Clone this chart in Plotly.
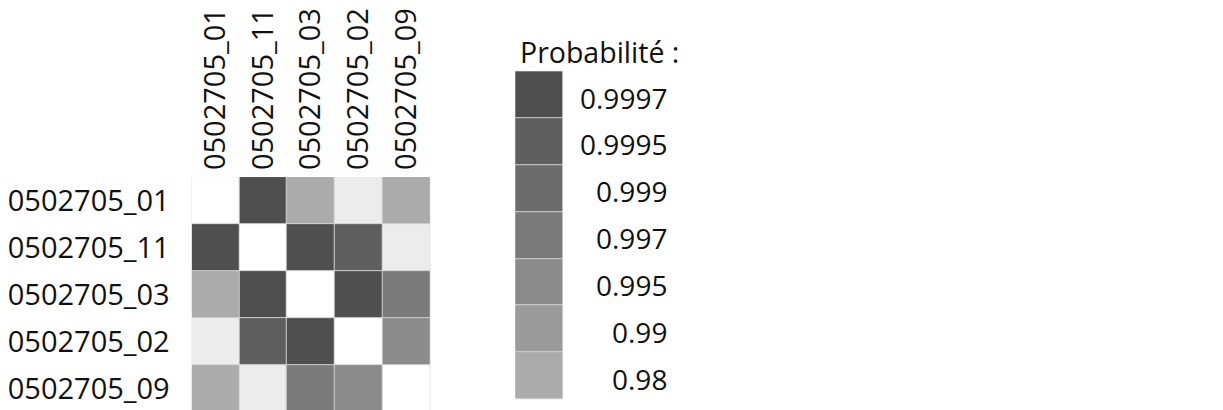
import plotly.graph_objects as go

samples = ["0502705_01", "0502705_11", "0502705_03", "0502705_02", "0502705_09"]

# Pairwise probabilities (diagonal = None). Cells lighter than the lowest class are < 0.98.
prob_01 = [None, 0.9997, 0.98, 0.95, 0.98]
prob_11 = [0.9997, None, 0.9997, 0.9995, 0.95]
prob_03 = [0.98, 0.9997, None, 0.9997, 0.997]
prob_02 = [0.95, 0.9995, 0.9997, None, 0.995]
prob_09 = [0.98, 0.95, 0.997, 0.995, None]
probs = [prob_01, prob_11, prob_03, prob_02, prob_09]

# Legend classes (low -> high) and their grey levels
class_labels = ["0.98", "0.99", "0.995", "0.997", "0.999", "0.9995", "0.9997"]
class_values = [0.98, 0.99, 0.995, 0.997, 0.999, 0.9995, 0.9997]
class_colors = ["#ababab", "#9b9b9b", "#8b8b8b", "#7b7b7b", "#6c6c6c", "#5e5e5e", "#4f4f4f"]
diag_color = "#ffffff"
below_color = "#ececec"

all_colors = [diag_color, below_color] + class_colors
n = len(all_colors)
colorscale = []
for i, c in enumerate(all_colors):
    colorscale.append([i / n, c])
    colorscale.append([(i + 1) / n, c])


def level(v):
    if v is None:
        return 0
    lv = 1
    for k, t in enumerate(class_values):
        if v >= t - 1e-9:
            lv = k + 2
    return lv


z = [[level(v) for v in row] for row in probs]

W, H = 1223, 410
OFF = 8  # page body margin offset
FONT = "Open Sans"
FS = 29


def px_x(x):
    return (x - OFF) / W


def px_y(y):
    return 1 - (y - OFF) / H


fig = go.Figure()
fig.add_trace(go.Heatmap(
    z=z, x=list(range(len(samples))), y=list(range(len(samples))),
    colorscale=colorscale, zmin=-0.5, zmax=n - 0.5, showscale=False,
    xgap=1, ygap=1, xaxis="x", yaxis="y", hoverinfo="skip",
))

legend_z = [[k + 2] for k in range(len(class_labels))]
fig.add_trace(go.Heatmap(
    z=legend_z, x=[0], y=list(range(len(class_labels))),
    colorscale=colorscale, zmin=-0.5, zmax=n - 0.5, showscale=False,
    xgap=1, ygap=1, xaxis="x2", yaxis="y2", hoverinfo="skip",
))

leg_top, leg_bot = 66, 399
fig.update_layout(
    width=W, height=H,
    margin=dict(l=0, r=0, t=0, b=0),
    paper_bgcolor="white", plot_bgcolor="#d2d2d2",
    font=dict(family=FONT, size=FS, color="#111111"),
    xaxis=dict(domain=[px_x(190), px_x(429)], range=[-0.5, 4.5], side="top",
               tickmode="array", tickvals=list(range(len(samples))), ticktext=samples,
               tickangle=-90, showgrid=False, zeroline=False, showline=False,
               ticks="", ticklabelstandoff=6, fixedrange=True),
    yaxis=dict(domain=[px_y(412), px_y(173.5)], range=[4.5, -0.5], autorange=False,
               tickmode="array", tickvals=list(range(len(samples))), ticktext=samples,
               showgrid=False, zeroline=False, showline=False,
               ticks="", ticklabelstandoff=21, fixedrange=True),
    xaxis2=dict(domain=[px_x(514), px_x(562)], range=[-0.5, 0.5], visible=False, anchor="y2"),
    yaxis2=dict(domain=[px_y(leg_bot), px_y(leg_top)], range=[-0.5, len(class_labels) - 0.5],
                visible=False, anchor="x2"),
)

sw_h = (leg_bot - leg_top) / len(class_labels)
for k, lab in enumerate(class_labels):
    ycenter = leg_bot - (k + 0.5) * sw_h + 3
    fig.add_annotation(x=px_x(668), y=px_y(ycenter), xref="paper", yref="paper",
                       text=lab, showarrow=False, xanchor="right", yanchor="middle",
                       font=dict(family=FONT, size=28, color="#111111"))

fig.add_annotation(x=px_x(517), y=px_y(47), xref="paper", yref="paper",
                   text="Probabilité :", showarrow=False, xanchor="left", yanchor="middle",
                   font=dict(family=FONT, size=28.5, color="#111111"))

fig.write_html("out.html")
